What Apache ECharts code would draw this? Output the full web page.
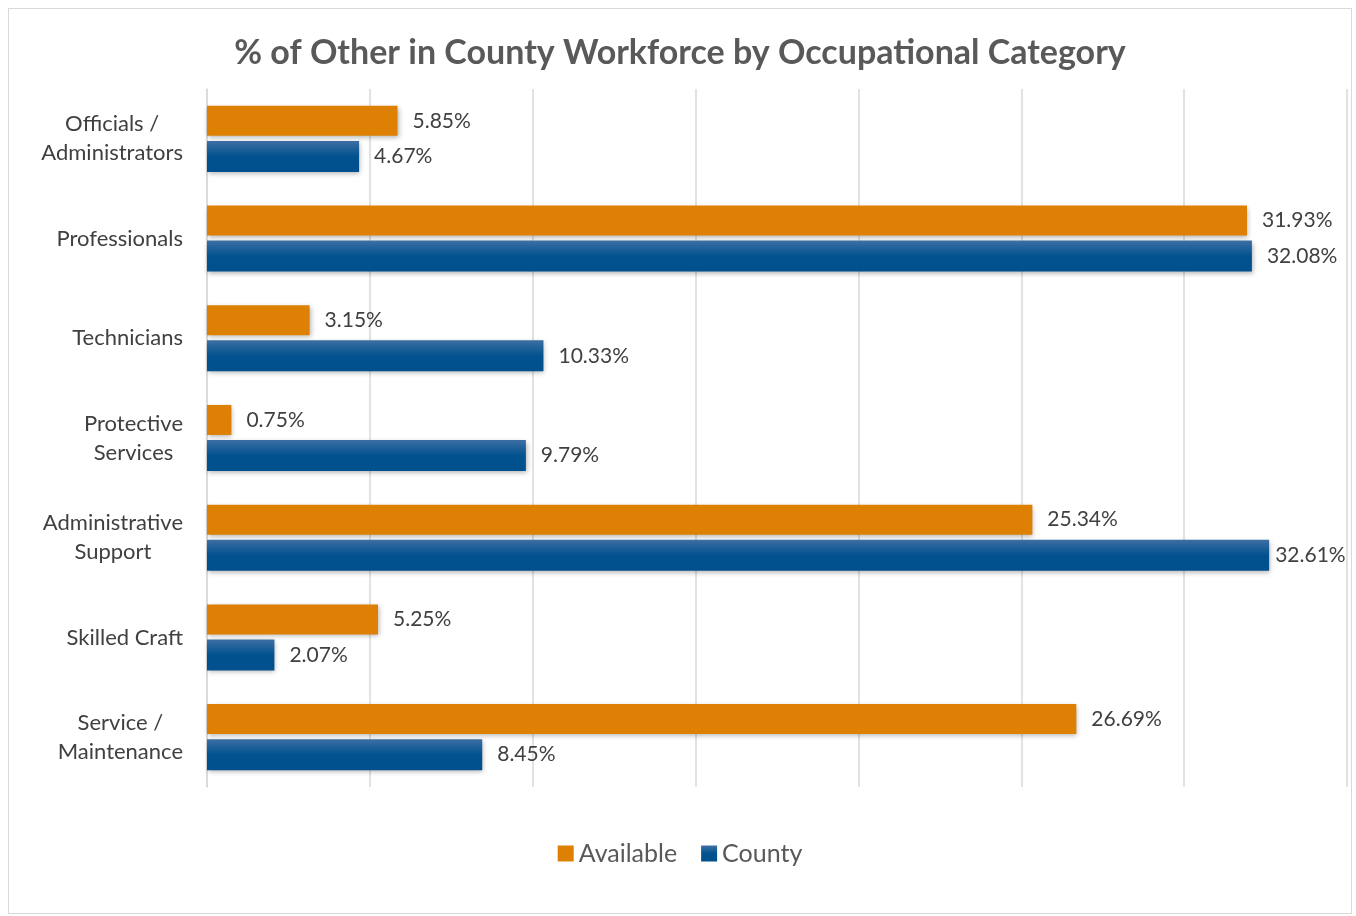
<!DOCTYPE html>
<html>
<head>
<meta charset="utf-8">
<script src="https://cdn.jsdelivr.net/npm/echarts@6/dist/echarts.min.js"></script>
<style>
  html, body { margin: 0; padding: 0; background: #fff; }
  #main { position: absolute; left: 8px; top: 8px; width: 1342px; height: 904px; border: 1px solid #d9d9d9; }
</style>
</head>
<body>
<div id="main"></div>
<script>
  const categories = ['Officials /\nAdministrators', 'Professionals', 'Technicians', 'Protective\nServices', 'Administrative\nSupport', 'Skilled Craft', 'Service /\nMaintenance'];
  const available = [5.85, 31.93, 3.15, 0.75, 25.34, 5.25, 26.69];
  const county = [4.67, 32.08, 10.33, 9.79, 32.61, 2.07, 8.45];

  const font = 'Lato, "Open Sans", sans-serif';
  const chart = echarts.init(document.getElementById('main'));

  const label = {
    show: true,
    position: 'right',
    distance: 15,
    fontFamily: font,
    fontSize: 21,
    color: '#404040',
    formatter: p => p.value.toFixed(2) + '%'
  };

  // centre each line of a category name inside its block
  const catFormatter = v => v.split('\n').map(s => '{c|' + s + '}').join('\n');

  // the longest bar's label sits closer so it stays inside the frame
  const countyData = county.map(v => v > 32.5 ? { value: v, label: { distance: 6 } } : v);

  chart.setOption({
    animation: false,
    title: {
      text: '% of Other in County Workforce by Occupational Category',
      left: 'center',
      top: 22,
      textStyle: { fontFamily: font, fontSize: 34, fontWeight: 'bold', color: '#595959' }
    },
    legend: {
      bottom: 42,
      left: 'center',
      icon: 'rect',
      itemWidth: 16,
      itemHeight: 16,
      itemGap: 24,
      textStyle: { fontFamily: font, fontSize: 25, color: '#595959' },
      data: ['Available', 'County']
    },
    grid: { left: 198, right: 4, top: 80, bottom: 126 },
    xAxis: {
      type: 'value',
      min: 0,
      max: 35,
      interval: 5,
      axisLabel: { show: false },
      axisLine: { show: false },
      axisTick: { show: false },
      splitLine: { lineStyle: { color: '#d9d9d9', width: 1.5 } }
    },
    yAxis: {
      type: 'category',
      inverse: true,
      data: categories,
      axisLine: { lineStyle: { color: '#d9d9d9', width: 1.5 } },
      axisTick: { length: 6, lineStyle: { color: '#d9d9d9', width: 1.5 } },
      axisLabel: {
        margin: 24,
        align: 'right',
        formatter: catFormatter,
        rich: {
          c: { fontFamily: font, fontSize: 22, color: '#404040', lineHeight: 29, align: 'center' }
        }
      }
    },
    series: [
      {
        name: 'Available',
        type: 'bar',
        data: available,
        barWidth: 30,
        barGap: '17%',
        itemStyle: { color: '#dd8003', shadowColor: 'rgba(0,0,0,0.3)', shadowBlur: 5, shadowOffsetY: 2, shadowOffsetX: 1 },
        label: label
      },
      {
        name: 'County',
        type: 'bar',
        data: countyData,
        barWidth: 31,
        itemStyle: {
          color: new echarts.graphic.LinearGradient(0, 0, 0, 1, [
            { offset: 0, color: '#3c6fa3' },
            { offset: 0.5, color: '#02528f' },
            { offset: 1, color: '#00508d' }
          ]),
          shadowColor: 'rgba(0,0,0,0.3)', shadowBlur: 5, shadowOffsetY: 2, shadowOffsetX: 1
        },
        label: label
      }
    ]
  });
</script>
</body>
</html>
